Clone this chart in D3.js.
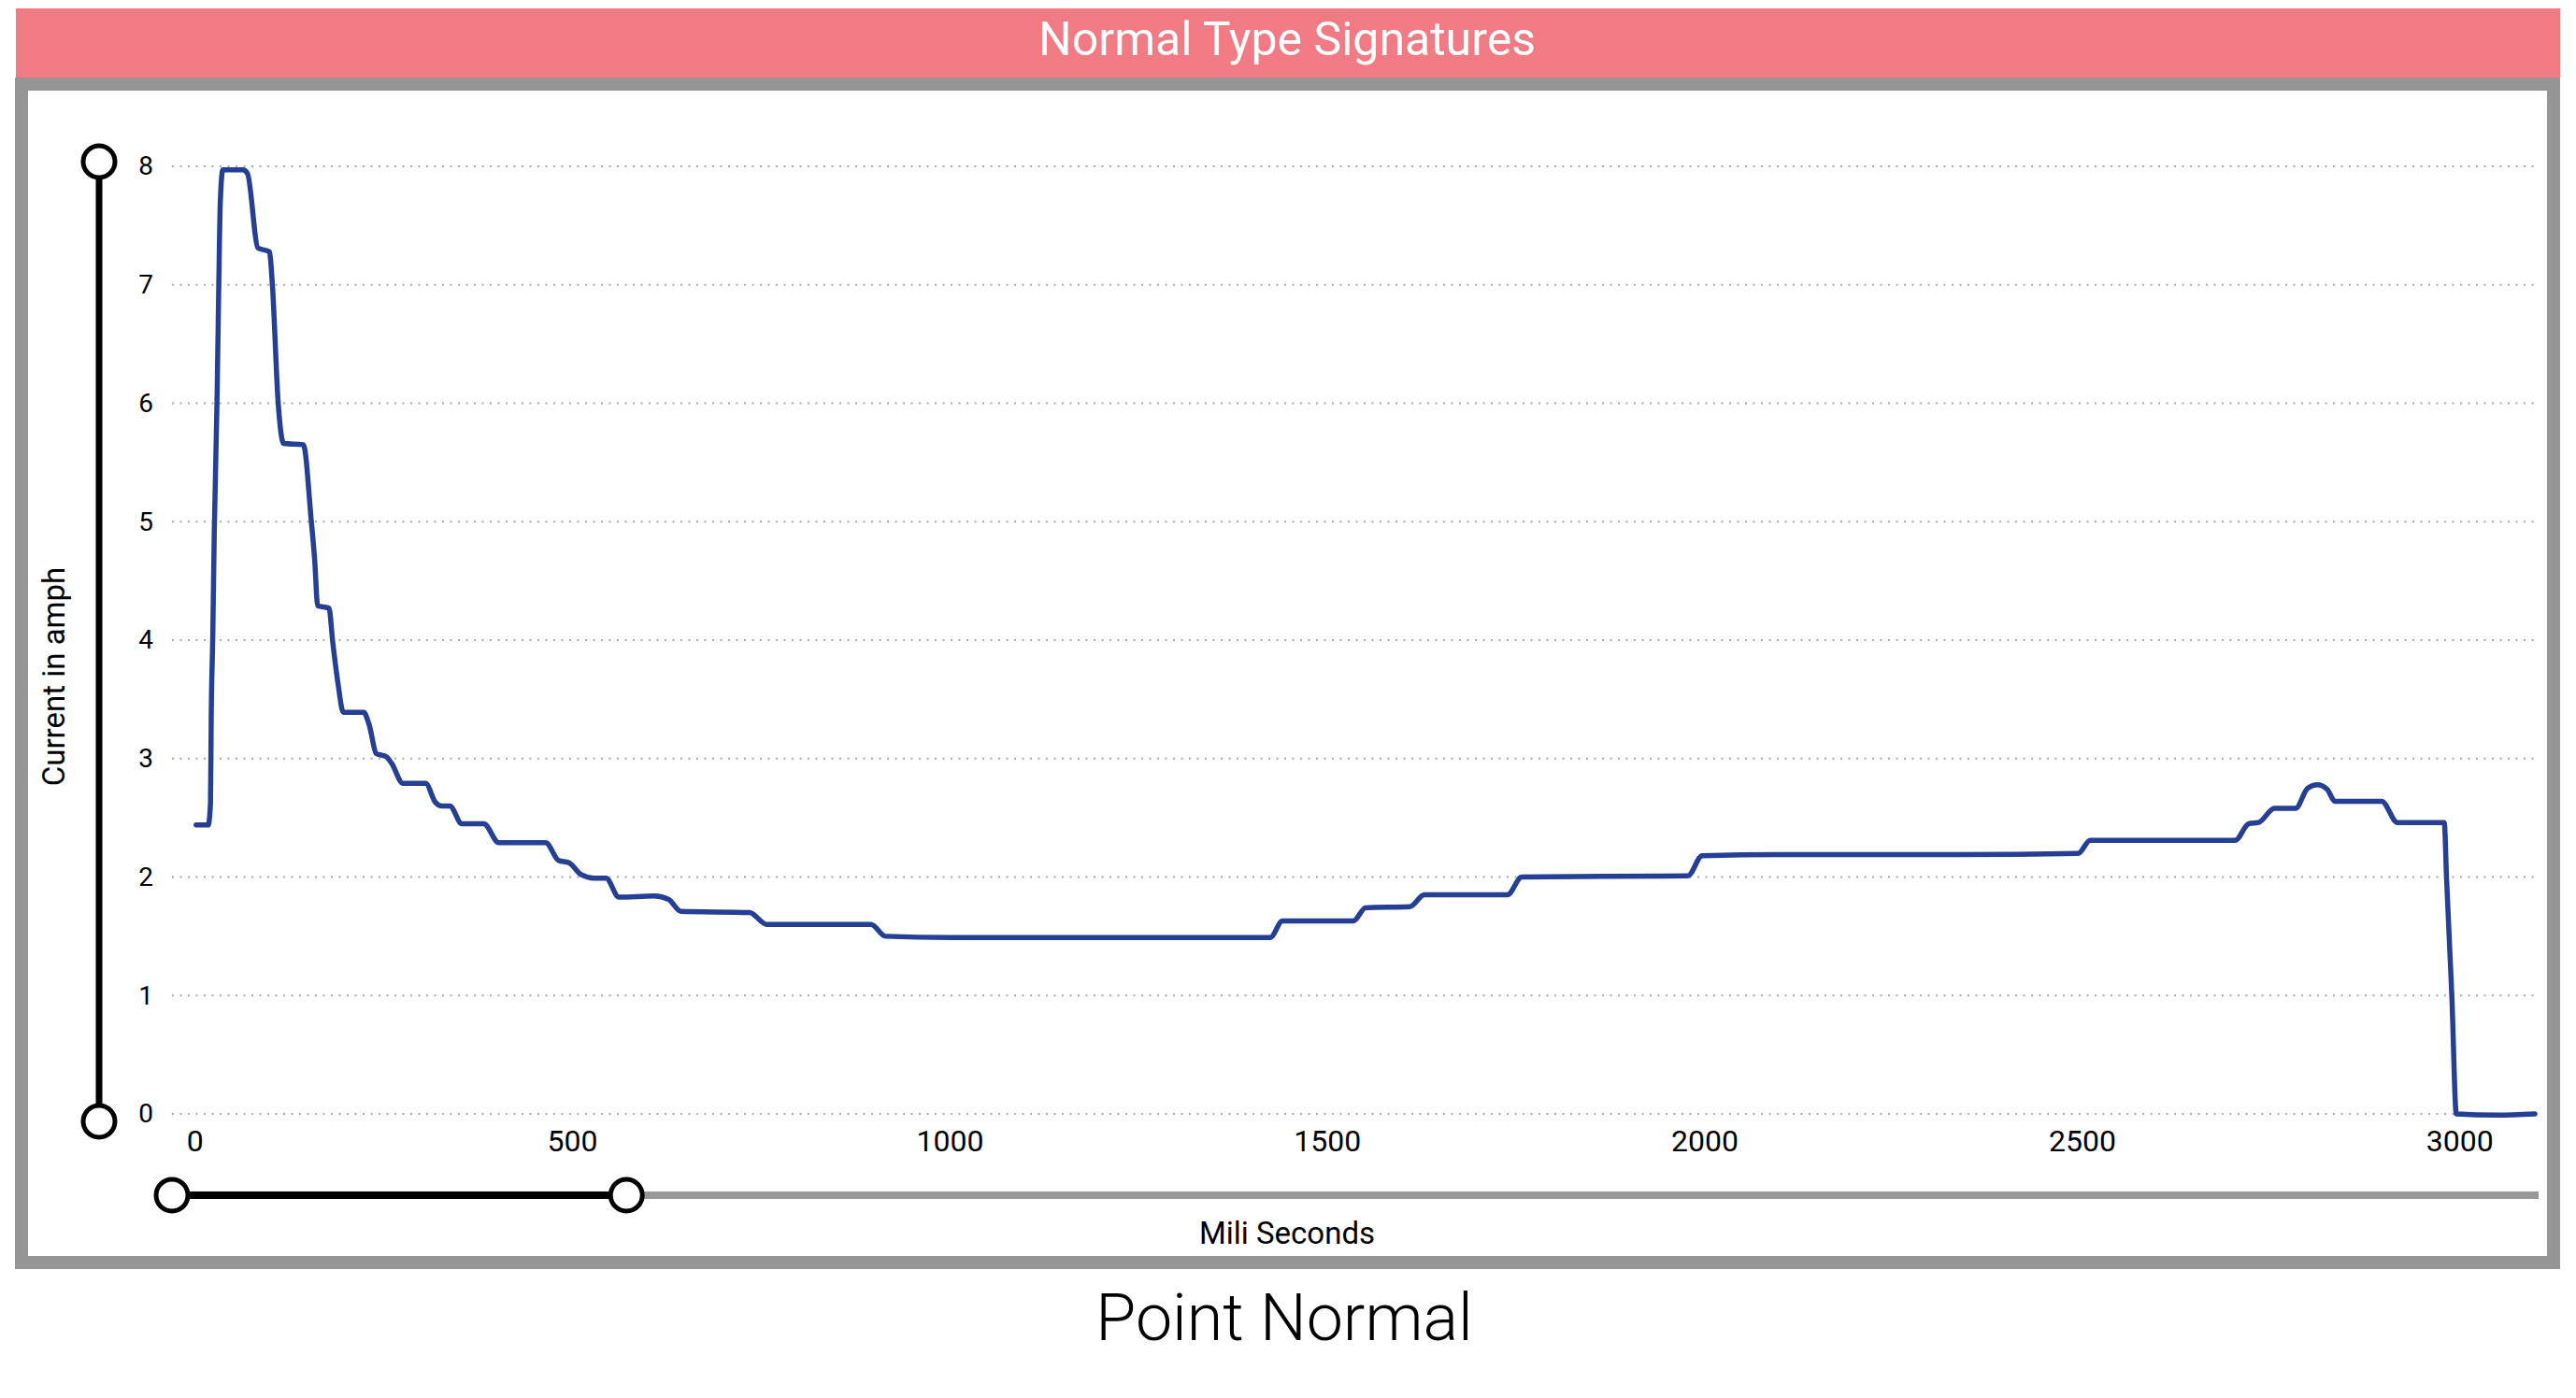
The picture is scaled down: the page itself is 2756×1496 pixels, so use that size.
<!DOCTYPE html>
<html lang="en">
<head>
  <meta charset="UTF-8" />
  <title>Normal Type Signatures</title>
  <script src="https://d3js.org/d3.v7.min.js"></script>
  <style>
    body {
      margin: 0;
      background: #fff;
      font-family: Roboto, sans-serif;
    }
    svg { display: block; }
  </style>
</head>
<body>
<svg id="chart"></svg>

<script>
// signature samples (ms, amps)
const times = [2, 18, 21, 22, 24, 26, 29.6, 32, 34, 37.4, 64, 70, 84, 99, 103, 110.7, 118, 144,
  154.6, 159, 163, 178, 183, 190, 197, 224, 231, 241, 253, 261, 276, 306, 319, 327, 338, 354,
  383, 403, 465, 482, 496, 512, 529, 545, 562, 609, 628, 644, 735, 758, 896, 915, 1000, 1100,
  1200, 1300, 1425, 1441, 1535, 1551, 1610, 1629, 1739, 1758, 1978, 1997, 2100, 2200, 2334,
  2495, 2511, 2703, 2721, 2734, 2755, 2783, 2799, 2812, 2825, 2835, 2897, 2918, 2980, 2983,
  2990, 2996, 3050, 3100];
const current = [2.44, 2.44, 2.62, 3.36, 4.02, 4.9, 6.0, 7.0, 7.7, 7.97, 7.97, 7.94, 7.31, 7.28,
  7.0, 6.0, 5.66, 5.65, 5.0, 4.68, 4.29, 4.27, 3.98, 3.63, 3.39, 3.39, 3.29, 3.04, 3.02, 2.96,
  2.79, 2.79, 2.63, 2.60, 2.60, 2.45, 2.45, 2.29, 2.29, 2.14, 2.12, 2.02, 1.99, 1.99, 1.83,
  1.84, 1.81, 1.71, 1.70, 1.60, 1.60, 1.50, 1.49, 1.49, 1.49, 1.49, 1.49, 1.63, 1.63, 1.74,
  1.75, 1.85, 1.85, 2.00, 2.01, 2.18, 2.19, 2.19, 2.19, 2.20, 2.31, 2.31, 2.45, 2.46, 2.58,
  2.58, 2.75, 2.78, 2.74, 2.64, 2.64, 2.46, 2.46, 1.99, 1.0, 0.0, -0.01, 0.0];

const xTicks = [0, 500, 1000, 1500, 2000, 2500, 3000];
const yTicks = [0, 1, 2, 3, 4, 5, 6, 7, 8];
const xRange = [-30, 3100];
const yRange = [0, 8];
const sliderX = [-30, 572];   // brushed window on the time slider
const sliderY = [0, 8];

const title = "Normal Type Signatures";
const subtitle = "Point Normal";
const xLabel = "Mili Seconds";
const yLabel = "Current in amph";

const W = 2756, H = 1496;
const svg = d3.select("#chart").attr("width", W).attr("height", H);

const x = d3.scaleLinear().domain(xRange).range([184, 2712]);
const y = d3.scaleLinear().domain(yRange).range([1192, 178]);

// header band
svg.append("rect")
  .attr("x", 17).attr("y", 9).attr("width", 2722).attr("height", 74)
  .attr("fill", "#f07b84");
svg.append("text")
  .attr("x", 1377).attr("y", 59)
  .attr("text-anchor", "middle")
  .attr("fill", "#fff")
  .style("font-size", "50px")
  .text(title);

// grey frame
svg.append("rect")
  .attr("x", 23).attr("y", 90).attr("width", 2709).attr("height", 1261)
  .attr("fill", "none")
  .attr("stroke", "#959595")
  .attr("stroke-width", 14);

// dotted grid
svg.append("g")
  .selectAll("line")
  .data(yTicks)
  .join("line")
  .attr("x1", x.range()[0]).attr("x2", x.range()[1])
  .attr("y1", d => y(d)).attr("y2", d => y(d))
  .attr("stroke", "#aaa")
  .attr("stroke-width", 2)
  .attr("stroke-dasharray", "2 6.5");

// axes
const yAxis = svg.append("g")
  .attr("transform", "translate(168,0)")
  .call(d3.axisLeft(y).tickValues(yTicks).tickSize(0).tickPadding(4));
yAxis.select(".domain").remove();
yAxis.selectAll("text")
  .attr("fill", "#000")
  .style("font-family", "Roboto, sans-serif")
  .style("font-size", "28px");

const xAxis = svg.append("g")
  .attr("transform", "translate(0,1209)")
  .call(d3.axisBottom(x).tickValues(xTicks).tickFormat(d3.format("d")).tickSize(0).tickPadding(0));
xAxis.select(".domain").remove();
xAxis.selectAll("text")
  .attr("fill", "#000")
  .attr("dy", "0.71em")
  .style("font-family", "Roboto, sans-serif")
  .style("font-size", "32px");

// signal line
const line = d3.line()
  .x((d, i) => x(times[i]))
  .y(d => y(d))
  .curve(d3.curveMonotoneX);

svg.append("path")
  .datum(current)
  .attr("fill", "none")
  .attr("stroke", "#243f93")
  .attr("stroke-width", 5.5)
  .attr("stroke-linejoin", "round")
  .attr("stroke-linecap", "round")
  .attr("d", line);

// vertical range slider
const vs = svg.append("g");
vs.append("line")
  .attr("x1", 106).attr("x2", 106)
  .attr("y1", y(sliderY[1]) - 5).attr("y2", y(sliderY[0]) + 8)
  .attr("stroke", "#000").attr("stroke-width", 7);
vs.selectAll("circle")
  .data([sliderY[1] , sliderY[0]])
  .join("circle")
  .attr("cx", 106)
  .attr("cy", (d, i) => y(d) + (i ? 8 : -5))
  .attr("r", 17)
  .attr("fill", "#fff")
  .attr("stroke", "#000")
  .attr("stroke-width", 5);

// horizontal range slider
const hs = svg.append("g");
hs.append("line")
  .attr("x1", x(xRange[0])).attr("x2", 2716)
  .attr("y1", 1279).attr("y2", 1279)
  .attr("stroke", "#999").attr("stroke-width", 8);
hs.append("line")
  .attr("x1", x(sliderX[0])).attr("x2", x(sliderX[1]))
  .attr("y1", 1279).attr("y2", 1279)
  .attr("stroke", "#000").attr("stroke-width", 8);
hs.selectAll("circle")
  .data(sliderX)
  .join("circle")
  .attr("cx", d => x(d))
  .attr("cy", 1279)
  .attr("r", 17)
  .attr("fill", "#fff")
  .attr("stroke", "#000")
  .attr("stroke-width", 5);

// labels
svg.append("text")
  .attr("x", 1377).attr("y", 1331)
  .attr("text-anchor", "middle")
  .attr("fill", "#000")
  .style("font-size", "33px")
  .text(xLabel);

svg.append("text")
  .attr("transform", "translate(69,724) rotate(-90)")
  .attr("text-anchor", "middle")
  .attr("fill", "#000")
  .style("font-size", "33px")
  .text(yLabel);

svg.append("text")
  .attr("x", 1374).attr("y", 1434)
  .attr("text-anchor", "middle")
  .attr("fill", "#000")
  .style("font-size", "70px")
  .style("font-weight", 300)
  .text(subtitle);
</script>
</body>
</html>
